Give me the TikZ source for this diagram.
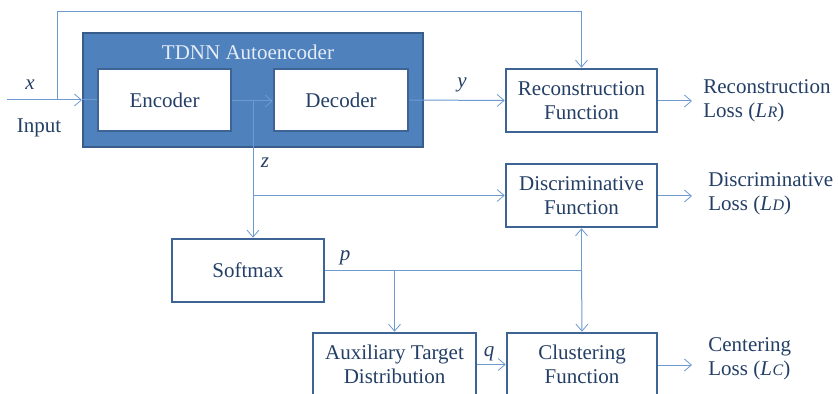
\documentclass[tikz,border=0pt]{standalone}
\usepackage{fontspec}
\setmainfont{Liberation Serif}
\usetikzlibrary{arrows.meta}
\definecolor{linec}{HTML}{6E9AD2}
\definecolor{boxc}{HTML}{3E6496}
\definecolor{aefill}{HTML}{4F81BD}
\definecolor{aeedge}{HTML}{385D8A}
\definecolor{txtc}{HTML}{243F66}
\definecolor{aetxt}{HTML}{E4ECF6}
\newcommand{\lossidx}[1]{\textit{L\kern0.3pt{\fontsize{8}{8}\selectfont #1}}}
\tikzset{
  blk/.style={draw=boxc, line width=1.3pt, fill=white, inner sep=0pt,
    align=center, text=txtc, minimum height=31.5pt},
  ln/.style={draw=linec, line width=0.5pt},
  arr/.style={ln, -{Straight Barb[length=3.5pt,width=6pt,line width=0.4pt]}},
  lbl/.style={text=txtc, inner sep=0pt},
  outlbl/.style={text=txtc, inner sep=0pt, anchor=west, align=left},
}
\begin{document}
\begin{tikzpicture}[x=0.5pt, y=-0.5pt, font=\fontsize{10.5}{12.2}\selectfont]
\clip (0,0) rectangle (838,394);
\fill[white] (0,0) rectangle (838,394);

% autoencoder container
\node[draw=aeedge, fill=aefill, line width=1pt, minimum width=170pt,
      minimum height=57pt, inner sep=0pt] (ae) at (253,90) {};
\node[text=aetxt, inner sep=0pt] (aet) at (248,52) {TDNN Autoencoder};

% blocks
\node[blk, minimum width=66.5pt, minimum height=31pt] (enc) at (164.5,100) {Encoder};
\node[blk, minimum width=67pt, minimum height=31pt] (dec) at (341,100) {Decoder};
\node[blk, minimum width=75.5pt] (rec) at (581.5,100.5) {Reconstruction\\Function};
\node[blk, minimum width=75.5pt] (disc) at (581.5,195.5) {Discriminative\\Function};
\node[blk, minimum width=76pt] (sm) at (248,270.5) {Softmax};
\node[blk, minimum width=81.5pt] (aux) at (394.5,364.5) {Auxiliary Target\\Distribution};
\node[blk, minimum width=75pt] (clu) at (582,364.5) {Clustering\\Function};

% helper points
\coordinate (in) at (7,100);
\coordinate (fb) at (57,100);
\coordinate (top) at (57,12);
\coordinate (zb) at (253,101);
\coordinate (pj) at (581.5,271);
\coordinate (ro) at (692,101);
\coordinate (do) at (692,196);
\coordinate (co) at (692,365);

% input path and skip connection
\draw[arr] (in) -- (ae.west |- in);
\draw[ln] (ae.west |- in) -- (enc.west);
\draw[arr] (fb) -- (top) -| (rec.north);

% autoencoder flow
\draw[arr] (enc.east |- zb) -- (dec.west |- zb);
\draw[arr] (dec.east) -- (rec.west);
\draw[arr] (zb) -- (zb |- sm.north);
\draw[arr] (zb |- disc.west) -- (disc.west);

% softmax output
\draw[ln] (sm.east |- pj) -- (pj);
\draw[arr] (pj) -- (disc.south);
\draw[arr] (pj) -- (clu.north);
\draw[arr] (aux.north |- pj) -- (aux.north);
\draw[arr] (aux.east) -- (clu.west);

% losses
\draw[arr] (rec.east |- ro) -- (ro);
\draw[arr] (disc.east |- do) -- (do);
\draw[arr] (clu.east |- co) -- (co);

% signal labels
\node[lbl] (lx) at (30,85) {\textit{x}};
\node[lbl] (lin) at (39,128) {Input};
\node[lbl] (ly) at (462,85) {\textit{y}};
\node[lbl] (lz) at (265,163) {\textit{z}};
\node[lbl] (lp) at (345,258) {\textit{p}};
\node[lbl] (lq) at (489,354) {\textit{q}};

% loss labels
\node[outlbl] (lr) at (703,100.5) {Reconstruction\\Loss (\lossidx{R})};
\node[outlbl] (ld) at (708,193.5) {Discriminative\\Loss (\lossidx{D})};
\node[outlbl] (lc) at (708,359) {Centering\\Loss (\lossidx{C})};
\end{tikzpicture}
\end{document}
